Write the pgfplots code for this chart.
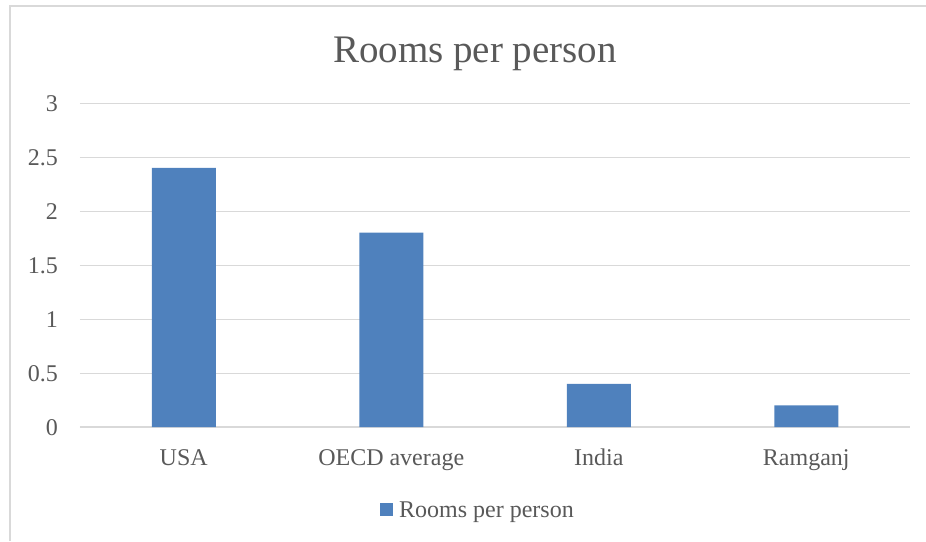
\documentclass[border=0pt]{standalone}
\usepackage{pgfplots}
\pgfplotsset{compat=1.18}
\usepackage{fontspec}
\setmainfont{Liberation Serif}
\definecolor{barblue}{HTML}{4F81BD}
\definecolor{txtgray}{HTML}{595959}
\definecolor{gridgray}{HTML}{D9D9D9}
\begin{document}
\begin{tikzpicture}[x=1pt,y=1pt]
\useasboundingbox (0,0) rectangle (926,541);
\draw[gridgray,line width=1.2pt] (10,0) -- (10,535) -- (926,535);
\node[txtgray,font=\fontsize{39}{44}\selectfont,anchor=base] at (475,478) {Rooms per person};
\begin{axis}[
  at={(80pt,114pt)}, anchor=south west,
  scale only axis, width=830pt, height=324pt,
  xmin=-0.5, xmax=3.5, ymin=0, ymax=3,
  ytick={0,0.5,...,3},
  xtick={0,1,2,3},
  xticklabels={USA,OECD average,India,Ramganj},
  axis line style={draw=none},
  axis x line*=bottom,
  x axis line style={draw=gridgray,line width=1.2pt},
  tick style={draw=none},
  ymajorgrids, grid style={gridgray,line width=0.9pt},
  ticklabel style={txtgray,font=\fontsize{24}{28}\selectfont},
  /pgf/number format/assume math mode=true,
  yticklabel style={anchor=base east,xshift=-22pt,yshift=-8pt,inner sep=0pt},
  xticklabel style={anchor=base,yshift=-38pt,inner sep=0pt},
  legend style={at={(0.4795,-0.256)},anchor=center,draw=none,
    font=\fontsize{24}{28}\selectfont,text=txtgray,
    legend cell align=left},
  legend image code/.code={\fill[barblue] (0pt,-6.5pt) rectangle (13pt,6.5pt); \path (17pt,0pt);},
]
\addplot[ybar, bar width=64pt, fill=barblue, draw=none] coordinates {(0,2.4) (1,1.8) (2,0.4) (3,0.2)};
\addlegendentry{Rooms per person}
\end{axis}
\end{tikzpicture}
\end{document}
